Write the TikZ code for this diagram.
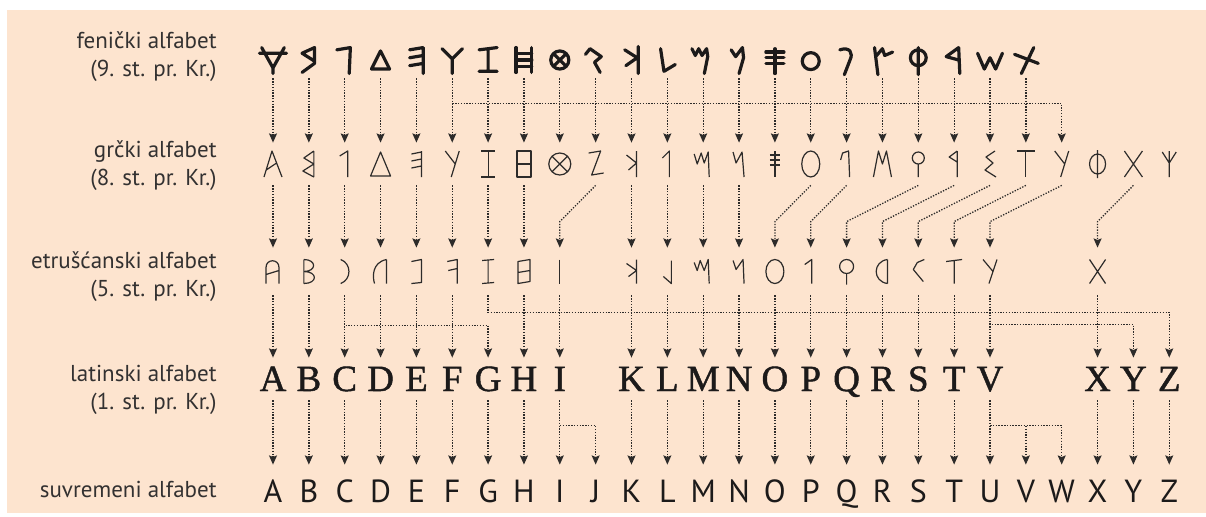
\documentclass[tikz,border=0pt]{standalone}
\usepackage{fontspec}
\setmainfont{PT Sans}
\newfontfamily\latfont[FakeBold=1.2]{Liberation Serif}
\usepackage{xcolor}
\usepackage{tikz}
\usetikzlibrary{arrows.meta}

\definecolor{bgpeach}{RGB}{253,228,207}
\definecolor{ink}{RGB}{28,26,26}
\definecolor{inkgray}{RGB}{45,43,42}

\begin{document}
\begin{tikzpicture}[x=0.5pt,y=-0.5pt,
  lab/.style={anchor=east,align=right,inner sep=0pt,text=ink!90,font=\fontsize{11.5}{14}\selectfont},
  phbox/.style={minimum width=10pt,minimum height=18pt,inner sep=0pt},
  grbox/.style={minimum width=10pt,minimum height=21pt,inner sep=0pt},
  etbox/.style={minimum width=10pt,minimum height=23.5pt,inner sep=0pt},
  labox/.style={inner sep=0pt,minimum height=21pt,text height=12pt,text depth=0pt,text=ink,font=\latfont\fontsize{18.5}{18}\selectfont},
  mobox/.style={inner sep=0pt,minimum height=26pt,text height=11.2pt,text depth=0pt,text=ink,font=\fontsize{16}{16}\selectfont},
  phglyph/.style={draw=ink,line width=1.6pt,line cap=round,line join=round,scale=1.13},
  oldglyph/.style={draw=inkgray,line width=0.6pt,line join=round},
  arr/.style={draw=inkgray,line width=0.65pt,dash pattern=on 0.65pt off 0.75pt,-{Stealth[length=4.6pt,width=4pt,inset=0.8pt]}}]
\newcommand{\glyph}[3]{\begin{scope}[shift={(#2)}]\path[#1] #3;\end{scope}}
\useasboundingbox (0,0) rectangle (1206,516);
\fill[bgpeach] (7,10) rectangle (1206,513);

% row labels
\node[lab] (lab-ph) at (217,57) {fenički alfabet\\(9. st. pr. Kr.)};
\node[lab] (lab-gr) at (217,166) {grčki alfabet\\(8. st. pr. Kr.)};
\node[lab] (lab-et) at (217,277) {etrušćanski alfabet\\(5. st. pr. Kr.)};
\node[lab] (lab-la) at (217,390) {latinski alfabet\\(1. st. pr. Kr.)};
\node[lab] (lab-mo) at (217,489) {suvremeni alfabet};

% letter places
\foreach \i in {0,...,21} \node[phbox] (ph-\i) at ({273+35.85*\i},60) {};
\foreach \i in {0,...,25} \node[grbox] (gr-\i) at ({273+35.85*\i},164) {};
\foreach \i in {0,1,2,3,4,5,6,7,8,10,11,12,13,14,15,16,17,18,19,20,23}
  \node[etbox] (et-\i) at ({273+35.85*\i},271.5) {};
\foreach \i/\l in {0/A,1/B,2/C,3/D,4/E,5/F,6/G,7/H,8/I,10/K,11/L,12/M,13/N,14/O,15/P,16/Q,17/R,18/S,19/T,20/V,23/X,24/Y,25/Z}
  \node[labox] (la-\i) at ({273+35.85*\i},379) {\l};
\foreach \l [count=\i from 0] in {A,...,Z}
  \node[mobox] (mo-\i) at ({273+35.85*\i},491) {\l};

% feničko pismo
\glyph{phglyph}{ph-0}{(-10,-11)--(0,7)--(10,-11) (-12,-6)--(12,-6) (0,7)--(0,12)}
\glyph{phglyph}{ph-1}{(5,1)--(-6,-6)--(5,-11)--(5,3)--(-6,11)}
\glyph{phglyph}{ph-2}{(-7,-9)--(5,-11)--(4,12)}
\glyph{phglyph}{ph-3}{(0,-8)--(8,8)--(-8,8)--cycle}
\glyph{phglyph}{ph-4}{(6,-11)--(6,12) (-6,-9)--(6,-11) (-6,-2)--(6,-4) (-6,5)--(6,3)}
\glyph{phglyph}{ph-5}{(-9,-10)--(0,-1)--(9,-10) (0,-1)--(0,12)}
\glyph{phglyph}{ph-6}{(-8,-9)--(8,-11) (0,-10)--(0,10) (-8,10)--(8,10)}
\glyph{phglyph}{ph-7}{(-7,-11)--(-7,11) (7,-11)--(7,11) (-7,-6)--(7,-6) (-7,0)--(7,0) (-7,6)--(7,6)}
\glyph{phglyph}{ph-8}{(0,0) circle[radius=8] (-5.5,-5.5)--(5.5,5.5) (5.5,-5.5)--(-5.5,5.5)}
\glyph{phglyph}{ph-9}{(-9,-5)--(-5,-10)--(5,-3)--(-1,2)--(4,11)}
\glyph{phglyph}{ph-10}{(6,-12)--(6,12) (-6,-9)--(5,-2)--(-5,5)}
\glyph{phglyph}{ph-11}{(-6,-10)--(-3,10)--(7,4)}
\glyph{phglyph}{ph-12}{(-10,-10)--(-7,-4)--(-4,-10)--(-1,-4)--(3,-10)--(4,-3)--(1,12)}
\glyph{phglyph}{ph-13}{(-7,-9)--(-3,-3)--(3,-11)--(4,-2)--(0,12)}
\glyph{phglyph}{ph-14}{(0,-10)--(0,12) (-8,-7)--(8,-7) (-8,-2)--(8,-2) (-8,3)--(8,3)}
\glyph{phglyph}{ph-15}{(0,1) circle[radius=7.5]}
\glyph{phglyph}{ph-16}{(-6,-9) .. controls (3,-12) and (6,-6) .. (3,0) -- (-2,13)}
\glyph{phglyph}{ph-17}{(-7,-11)--(-4,13) (-6,-3)--(0,-10)--(2,-4)--(9,-7)}
\glyph{phglyph}{ph-18}{(0,-2) circle[radius=7] (0,-11)--(0,13)}
\glyph{phglyph}{ph-19}{(4,-11)--(-7,-3)--(4,0) (4,-11)--(5,12)}
\glyph{phglyph}{ph-20}{(-11,-6)--(-5,8)--(0,-2)--(5,8)--(11,-6)}
\glyph{phglyph}{ph-21}{(-10,-5)--(11,3) (7,-11)--(-4,12)}

% grčko pismo
\glyph{oldglyph}{gr-0}{(-9,13)--(-1,-13)--(9,13) (-6.8,6)--(3.6,-1)}
\glyph{oldglyph}{gr-1}{(5,-13)--(5,13) (5,-13)--(-5,-6)--(5,0)--(-6,7)--(5,13)}
\glyph{oldglyph}{gr-2}{(-5,-8)--(3,-13)--(3,13)}
\glyph{oldglyph}{gr-3}{(0,-12)--(10,12)--(-10,12)--cycle}
\glyph{oldglyph}{gr-4}{(5,-13)--(5,13) (-5,-10)--(5,-12) (-5,-3)--(5,-5) (-5,4)--(5,2)}
\glyph{oldglyph}{gr-5}{(-7,-13)--(3,0) (7,-13)--(-1,13)}
\glyph{oldglyph}{gr-6}{(-7,-13)--(7,-13) (0,-13)--(0,13) (-7,13)--(7,13)}
\glyph{oldglyph}{gr-7}{(-7,-13) rectangle (7,13) (-7,0)--(7,0)}
\glyph{oldglyph}{gr-8}{(0,0) circle[radius=11] (-7.8,-7.8)--(7.8,7.8) (7.8,-7.8)--(-7.8,7.8)}
\glyph{oldglyph}{gr-9}{(-7,-11)--(5,-13)--(-4,11)--(8,9)}
\glyph{oldglyph}{gr-10}{(5,-13)--(5,13) (-5,-9)--(5,-1)--(-3,6)}
\glyph{oldglyph}{gr-11}{(-5,-6)--(2,-13)--(2,13)}
\glyph{oldglyph}{gr-12}{(-9,-10)--(-6,0)--(-2,-11)--(1,-1)--(5,-12)--(6,13)}
\glyph{oldglyph}{gr-13}{(-6,-12)--(-3,-1)--(3,-12)--(5,13)}
\glyph{oldglyph}{gr-14}{(0,-13)--(0,13) (-5,-9)--(5,-9) (-5,-4)--(5,-4) (-5,1)--(5,1)}
\glyph{oldglyph}{gr-15}{(0,0) ellipse[x radius=9,y radius=13]}
\glyph{oldglyph}{gr-16}{(-6,-4)--(-4,-11)--(2,-13)--(3,13)}
\glyph{oldglyph}{gr-17}{(-9,13)--(-4,-13)--(0,0)--(4,-13)--(9,13)}
\glyph{oldglyph}{gr-18}{(0,-6) circle[radius=6] (0,0)--(0,13)}
\glyph{oldglyph}{gr-19}{(3,-13)--(-5,-7)--(3,-2) (3,-13)--(3,13)}
\glyph{oldglyph}{gr-20}{(5,-13)--(-4,-7)--(3,-1)--(-5,6)--(6,13)}
\glyph{oldglyph}{gr-21}{(-9,-13)--(9,-13) (0,-13)--(0,13)}
\glyph{oldglyph}{gr-22}{(-7,-13)--(3,0) (7,-13)--(-1,13)}
\glyph{oldglyph}{gr-23}{(0,0) ellipse[x radius=8,y radius=10] (0,-14)--(0,14)}
\glyph{oldglyph}{gr-24}{(-9,-13)--(9,13) (9,-13)--(-9,13)}
\glyph{oldglyph}{gr-25}{(-7,-12)--(0,-1)--(7,-12) (0,-13)--(0,13)}

% etruščansko pismo
\glyph{oldglyph}{et-0}{(-7,12)--(-7,-4) .. controls (-7,-13) and (6,-13) .. (6,-4)--(6,12) (-7,3)--(6,-1)}
\glyph{oldglyph}{et-1}{(-5,-12)--(-5,12) (-5,-12) .. controls (8,-12) and (8,0) .. (-5,0) .. controls (9,0) and (9,12) .. (-5,12)}
\glyph{oldglyph}{et-2}{(-4,-12) .. controls (7,-8) and (7,8) .. (-4,12)}
\glyph{oldglyph}{et-3}{(6,-12)--(6,12) (6,-12) .. controls (-9,-9) and (-8,6) .. (-6,12)}
\glyph{oldglyph}{et-4}{(-5,-10)--(5,-12)--(5,11)--(-5,12)}
\glyph{oldglyph}{et-5}{(-5,-10)--(5,-12)--(5,12) (-4,-1)--(5,-3)}
\glyph{oldglyph}{et-6}{(-6,-11)--(6,-12) (0,-12)--(0,12) (-6,12)--(6,11)}
\glyph{oldglyph}{et-7}{(-6,-10)--(6,-12)--(6,10)--(-6,12)--cycle (-6,1)--(6,-1)}
\glyph{oldglyph}{et-8}{(0,-12)--(0,12)}
\glyph{oldglyph}{et-10}{(5,-12)--(5,12) (-5,-8)--(5,-1)--(-3,5)}
\glyph{oldglyph}{et-11}{(4,-11)--(4,12)--(-4,5)}
\glyph{oldglyph}{et-12}{(-9,-9)--(-6,-1)--(-3,-11)--(1,-1)--(5,-12)--(6,12)}
\glyph{oldglyph}{et-13}{(-6,-11)--(-3,-2)--(4,-12)--(5,12)}
\glyph{oldglyph}{et-14}{(0,0) ellipse[x radius=9,y radius=12]}
\glyph{oldglyph}{et-15}{(-6,-7)--(1,-12)--(1,12)}
\glyph{oldglyph}{et-16}{(0,-5) circle[radius=7] (0,2)--(0,13)}
\glyph{oldglyph}{et-17}{(5,-12)--(5,12) (5,-12) .. controls (-10,-10) and (-10,10) .. (5,12)}
\glyph{oldglyph}{et-18}{(6,-12)--(-1,-9)--(-5,-2)--(5,10)}
\glyph{oldglyph}{et-19}{(-8,-10)--(8,-12) (0,-11)--(0,12)}
\glyph{oldglyph}{et-20}{(-7,-12)--(3,0) (7,-12)--(-1,12)}
\glyph{oldglyph}{et-23}{(-8,-12)--(8,12) (8,-12)--(-8,12)}

% fenički -> grčki
\foreach \i in {0,...,21} \draw[arr] (ph-\i) -- (gr-\i);
\draw[arr] (ph-5.south) -- ++(0,25) -| (gr-22.north);

% grčki -> etruščanski
\foreach \i in {0,1,2,3,4,5,6,7,10,11,12,13} \draw[arr] (gr-\i) -- (et-\i);
\foreach \a/\b in {9/8,15/14,16/15,18/16,19/17,20/18,21/19,22/20,24/23}
  \draw[arr] (gr-\a.south) -- ([yshift=13pt]et-\b.north) -- (et-\b.north);

% etruščanski -> latinski
\foreach \i in {0,1,2,3,4,5,7,8,10,11,12,13,14,15,16,17,18,19,20,23} \draw[arr] (et-\i) -- (la-\i);
\draw[arr] (et-2.south) -- ++(0,30) -| (la-6.north);
\draw[arr] (et-6.south) -- ++(0,17) -| (la-25.north);
\draw[arr] (et-20.south) -- ++(0,29) -| (la-24.north);

% latinski -> suvremeni
\foreach \i in {0,1,2,3,4,5,6,7,8,10,11,12,13,14,15,16,17,18,19,20,23,24,25} \draw[arr] (la-\i) -- (mo-\i);
\draw[arr] (la-8.south) -- ++(0,25) -| (mo-9.north);
\draw[arr] (la-20.south) -- ++(0,25) -| (mo-22.north);
\draw[arr] ([yshift=-12.5pt]la-20.south) -| (mo-21.north);
\end{tikzpicture}
\end{document}
